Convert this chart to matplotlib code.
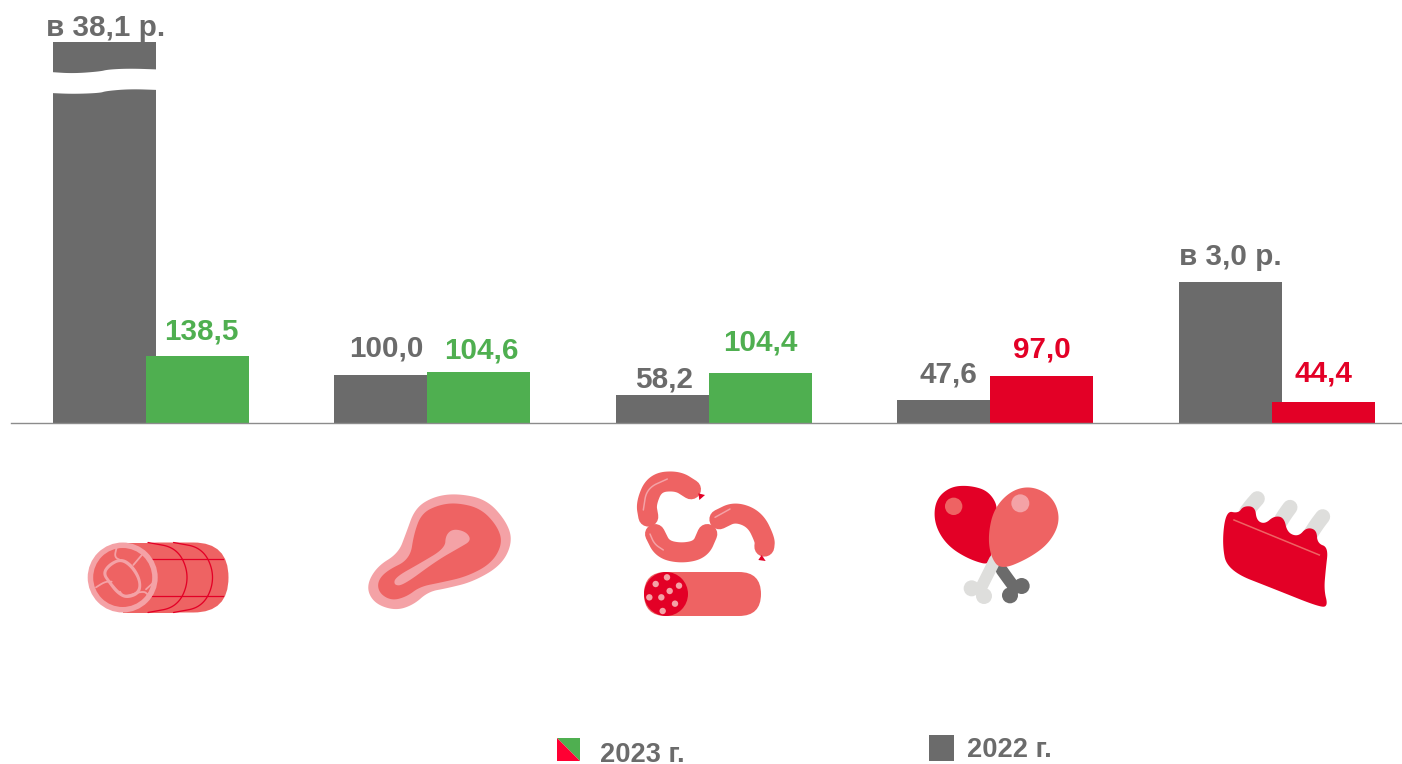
import matplotlib
matplotlib.use('Agg')
import matplotlib.pyplot as plt
import numpy as np
from matplotlib.path import Path
from matplotlib.patches import PathPatch, Circle, Polygon, FancyBboxPatch, Rectangle

plt.rcParams['font.family'] = ['Liberation Sans', 'DejaVu Sans']

# drawn bar heights (the chart is not to scale for the big ones)
gray_heights = [789, 100.0, 58.2, 47.6, 292]
color_heights = [138.5, 104.6, 104.4, 97.0, 44.4]
gray_labels = ['в 38,1 р.', '100,0', '58,2', '47,6', 'в 3,0 р.']
color_labels = ['138,5', '104,6', '104,4', '97,0', '44,4']

GRAY = '#6b6b6b'
GREEN = '#4faf50'
RED = '#e30026'
SALMON = '#ee6363'
LIGHT = '#f4a2a6'
BONE = '#dededc'
color_colors = [GREEN, GREEN, GREEN, RED, RED]

# label offsets in px from the top middle of the bar
gray_off = [(1, 14), (1, 26), (-3, 15), (0, 26), (0, 25)]
color_off = [(4, 25), (3, 22), (0, 30), (0, 27), (0, 28)]

fig = plt.figure(figsize=(14.02, 7.64), dpi=100)
ax = fig.add_axes([0, 0, 1, 1])
step = 281.5
px = 0.483
ax.set_xlim(-104.2 / step, (1402 - 104.2) / step)
ax.set_ylim(-(764 - 423) / px, 423 / px)
ax.axis('off')

x = np.arange(5)
w = 103 / step
off = 93 / step
ax.bar(x, gray_heights, w, color=GRAY, zorder=2)
ax.bar(x + off, color_heights, w, color=color_colors, zorder=3)
ax.axhline(0, xmin=11 / 1402, color='#8c8c8c', lw=1, zorder=4)

for i in x:
    ax.annotate(gray_labels[i], (i, gray_heights[i]), xytext=gray_off[i], textcoords='offset pixels',
                ha='center', va='center', fontsize=21.3, fontweight='bold', color=GRAY, zorder=6)
    ax.annotate(color_labels[i], (i + off, color_heights[i]), xytext=color_off[i], textcoords='offset pixels',
                ha='center', va='center', fontsize=21.3, fontweight='bold', color=color_colors[i], zorder=6)

# overlay in image pixels for the break mark, icons and legend
ov = fig.add_axes([0, 0, 1, 1], zorder=5)
ov.set_xlim(0, 1402)
ov.set_ylim(764, 0)
ov.axis('off')
ov.patch.set_alpha(0)


def smooth(pts, closed=True, rounds=4):
    # chaikin corner cutting, the points act as a control polygon
    p = np.array(pts, dtype=float)
    for _ in range(rounds):
        q = np.roll(p, -1, axis=0) if closed else p[1:]
        a = p if closed else p[:-1]
        cut = np.empty((2 * len(a), 2))
        cut[0::2] = 0.75 * a + 0.25 * q
        cut[1::2] = 0.25 * a + 0.75 * q
        p = cut if closed else np.vstack([p[:1], cut, p[-1:]])
    if closed:
        p = np.vstack([p, p[:1]])
    return Path(p)


def blob(pts, color, z=5):
    ov.add_patch(PathPatch(smooth(pts), fc=color, ec='none', zorder=z))


def stroke(pts, color, lw, z=5, cap='round'):
    ov.add_patch(PathPatch(smooth(pts, closed=False), fc='none', ec=color, lw=lw * 0.72,
                           capstyle=cap, zorder=z))


def disc(c, r, color, z=5):
    ov.add_patch(Circle(c, r, fc=color, ec='none', zorder=z))


def z2(pts):
    return [(70 + a / 3, 470 + b / 3) for a, b in pts]


def z3(pts):
    return [(620 + a / 3, 460 + b / 3) for a, b in pts]


def z4(pts):
    return [(1200 + a / 3, 480 + b / 3) for a, b in pts]


# break in the tall bar
top_edge = [(50, 72), (73, 73.5), (100, 71.5), (108, 69.5), (130, 68.5), (159, 69.5)]
bot_edge = [(159, 90), (130, 89), (106, 91), (100, 93), (73, 94), (50, 93)]
ov.add_patch(Polygon(np.vstack([smooth(top_edge, closed=False).vertices, smooth(bot_edge, closed=False).vertices]),
                     fc='white', ec='none', zorder=3))

# roll
ov.add_patch(FancyBboxPatch((123 + 35, 542.5 + 35), 35.5, 0, boxstyle='round,pad=35', fc=SALMON, ec='none', zorder=4))
ov.add_patch(Rectangle((123, 542.5), 50, 70, fc=SALMON, ec='none', zorder=4))
for a in [0, 25.5]:
    stroke([(148 + a, 542.5), (178 + a, 548), (190 + a, 577.5), (178 + a, 607), (148 + a, 612.5)], RED, 1.3)
ov.plot([152, 223], [559.3, 559.3], color=RED, lw=0.9, zorder=5)
ov.plot([152, 223], [596, 596], color=RED, lw=0.9, zorder=5)
disc((122.7, 577.5), 35, LIGHT, 6)
disc((122.7, 577.5), 29.5, SALMON, 6)
blob(z2([(115, 280), (155, 262), (190, 285), (215, 330), (212, 372), (170, 388), (140, 372), (115, 340), (95, 310)]), LIGHT, 6)
blob(z2([(122, 288), (152, 272), (182, 292), (206, 332), (204, 364), (170, 378), (147, 364), (122, 334), (105, 310)]), SALMON, 6)
for seg in [[(140, 232), (133, 262), (155, 272)], [(218, 252), (190, 285)],
            [(78, 352), (105, 335), (125, 335)], [(150, 365), (160, 382), (220, 362), (235, 375)],
            [(228, 358), (250, 338)]]:
    stroke(z2(seg), LIGHT, 1.8, 6)

# steak
blob(z2([(1160, 70), (1250, 88), (1310, 155), (1328, 215), (1295, 285), (1210, 335), (1130, 355), (1075, 365),
         (1030, 405), (975, 422), (912, 400), (888, 350), (920, 290), (985, 250), (1008, 190), (1035, 115), (1090, 80)]), LIGHT)
blob(z2([(1160, 98), (1232, 115), (1282, 168), (1298, 220), (1265, 280), (1190, 320), (1110, 338), (1050, 350),
         (1010, 380), (965, 392), (928, 370), (922, 335), (950, 302), (1020, 268), (1032, 190), (1055, 130), (1105, 105)]), SALMON, 6)
blob(z2([(1150, 176), (1190, 186), (1204, 212), (1170, 232), (1100, 272), (1000, 346), (972, 346), (975, 322),
         (1050, 280), (1125, 235), (1127, 195)]), LIGHT, 7)

# sausages
stroke(z3([(213, 88), (172, 62), (105, 68), (78, 130), (85, 170)]), SALMON, 20)
stroke(z3([(105, 222), (128, 268), (185, 280), (242, 268), (262, 222)]), SALMON, 20)
stroke(z3([(298, 178), (345, 155), (405, 178), (435, 240), (433, 260)]), SALMON, 20)
ov.add_patch(Polygon(z3([(235, 100), (255, 105), (238, 120)]), fc=RED, ec='none', zorder=5))
ov.add_patch(Polygon(z3([(425, 285), (415, 300), (437, 303)]), fc=RED, ec='none', zorder=5))
stroke(z3([(70, 150), (80, 85), (142, 57)]), LIGHT, 1.5, 6)
stroke(z3([(90, 222), (103, 252), (130, 270)]), LIGHT, 1.5, 6)
stroke(z3([(285, 172), (330, 147)]), LIGHT, 1.5, 6)
ov.add_patch(FancyBboxPatch((666, 594), 73, 0, boxstyle='round,pad=22', fc=SALMON, ec='none', zorder=5))
disc(z3([(138, 402)])[0], 22, RED, 6)
for c in [(141, 352), (107, 372), (177, 377), (149, 393), (88, 412), (124, 412), (165, 431), (128, 453)]:
    disc(z3([c])[0], 3.2, LIGHT, 7)

# drumsticks
stroke(z3([(1145, 330), (1165, 358), (1185, 385)]), GRAY, 12)
disc(z3([(1205, 378)])[0], 8, GRAY)
disc(z3([(1170, 406)])[0], 8, GRAY)
blob(z3([(1050, 76), (1108, 94), (1138, 150), (1105, 220), (1120, 318), (1050, 300), (980, 256), (942, 190),
         (946, 120), (990, 80)]), RED, 5)
stroke(z3([(1125, 300), (1105, 340), (1085, 380)]), BONE, 12, 6)
disc(z3([(1055, 385)])[0], 8, BONE, 6)
disc(z3([(1092, 408)])[0], 8, BONE, 6)
blob(z3([(1238, 78), (1300, 112), (1322, 180), (1290, 248), (1225, 296), (1142, 330), (1112, 290), (1104, 225),
         (1122, 145), (1175, 90)]), SALMON, 7)
disc(z3([(1001, 139)])[0], 8.7, SALMON, 6)
disc(z3([(1201, 130)])[0], 9, LIGHT, 8)

# ribs
for seg in [[(140, 95), (156, 74), (172, 56)], [(238, 130), (254, 104), (270, 82)], [(330, 165), (349, 135), (368, 110)]]:
    stroke(z4(seg), BONE, 15, 5)
blob(z4([(78, 92), (115, 100), (130, 78), (165, 80), (170, 122), (195, 132), (222, 108), (252, 112), (262, 158),
         (295, 170), (320, 142), (350, 150), (352, 190), (385, 202), (377, 270), (372, 330), (384, 378), (360, 382),
         (225, 328), (82, 272), (66, 190)]), RED, 6)
ov.plot(*zip(*z4([(102, 120), (358, 225)])), color=SALMON, lw=1.1, zorder=7)

# legend
ov.add_patch(Polygon([(557, 738), (580, 738), (580, 761)], fc=GREEN, ec='none'))
ov.add_patch(Polygon([(557, 738), (557, 761), (580, 761)], fc='#ff0033', ec='none'))
ov.add_patch(Rectangle((929, 735), 25, 25.5, fc=GRAY, ec='none'))
ov.text(600, 755, '2023 г.', fontsize=19.6, fontweight='bold', color=GRAY, va='center', ha='left')
ov.text(967, 750, '2022 г.', fontsize=19.6, fontweight='bold', color=GRAY, va='center', ha='left')

fig.savefig('out.png', dpi=100)
